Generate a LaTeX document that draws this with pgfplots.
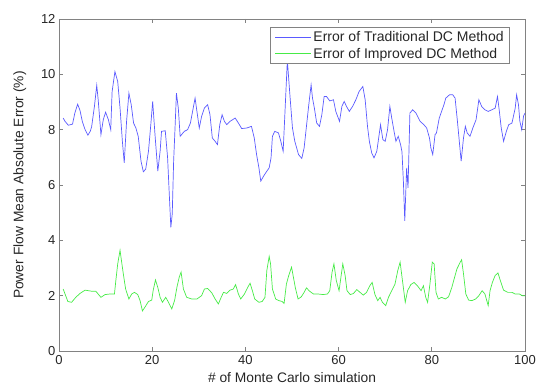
\documentclass[border=0pt]{standalone}
\usepackage{pgfplots}
\pgfplotsset{compat=1.18}
\usepackage{fontspec}
\setmainfont{Liberation Sans}
\definecolor{tradblue}{RGB}{90,90,255}
\definecolor{impgreen}{RGB}{70,235,70}
\definecolor{axgray}{RGB}{130,130,130}
\begin{document}
\begin{tikzpicture}
\useasboundingbox (-59pt,-35pt) rectangle (478pt,351pt);
\begin{axis}[
  at={(0,0)}, anchor=south west,
  width=466pt, height=332pt, scale only axis,
  xmin=0, xmax=100, ymin=0, ymax=12,
  xtick={0,20,...,100}, ytick={0,2,...,12},
  tick align=inside,
  major tick length=4pt,
  axis line style={axgray, line width=0.9pt},
  every tick/.style={axgray, line width=0.8pt},
  /pgf/number format/assume math mode=true,
  tick label style={font=\fontsize{13}{14}\selectfont, text=black!85},
  xticklabel style={yshift=-1pt},
  xlabel={\# of Monte Carlo simulation},
  ylabel={Power Flow Mean Absolute Error (\%)},
  label style={font=\fontsize{13.8}{15}\selectfont, text=black!85},
  xlabel style={yshift=-1pt},
  ylabel style={yshift=8pt},
  legend style={at={(1,1)}, anchor=north east, xshift=-15pt, yshift=-8pt,
    draw=axgray, line width=0.8pt, font=\fontsize{14}{15}\selectfont, text=black!85,
    inner xsep=4pt, inner ysep=2pt, row sep=1pt},
  legend cell align=left,
  legend image code/.code={\draw[#1, line width=0.9pt] (0pt,0pt) -- (36pt,0pt);},
]
\addplot[tradblue, line width=0.7pt] coordinates {
(0.9,8.42)(1.3,8.3)(2.0,8.16)(2.9,8.2)(3.4,8.6)(4.0,8.92)(4.5,8.7)(5.0,8.3)(5.6,8.0)(6.2,7.8)(6.7,7.94)(7.0,8.1)(7.6,8.84)(8.1,9.6)(8.4,9.1)(9.0,7.82)(9.5,8.36)(10.0,8.63)(10.6,8.36)(11.1,8.0)(11.4,9.38)(12.0,10.1)(12.6,9.74)(13.1,8.78)(13.6,7.58)(14.0,6.8)(14.5,8.3)(15.0,9.32)(15.5,8.9)(16.0,8.24)(16.5,8.06)(17.0,7.76)(17.6,6.86)(18.1,6.48)(18.6,6.57)(19.2,7.22)(19.7,8.18)(20.1,9.02)(20.6,7.82)(21.2,6.5)(21.7,7.22)(22.0,7.94)(22.8,7.96)(23.3,7.0)(23.6,5.9)(24.0,4.47)(24.3,4.95)(24.6,6.86)(24.9,8.06)(25.2,9.32)(25.6,8.78)(26.0,7.76)(26.3,7.82)(26.9,7.94)(27.6,8.0)(28.2,8.24)(28.6,8.6)(29.2,9.14)(29.6,8.66)(30.1,8.06)(30.6,8.48)(31.2,8.78)(31.9,8.9)(32.4,8.54)(32.9,7.7)(33.5,7.58)(34.0,7.46)(34.5,8.18)(35.0,8.54)(35.5,8.3)(36.0,8.18)(36.7,8.3)(37.8,8.42)(38.5,8.24)(39.2,8.04)(40.3,8.06)(41.3,8.12)(41.9,7.7)(42.4,7.1)(42.9,6.62)(43.3,6.14)(43.9,6.32)(44.6,6.5)(45.1,6.62)(45.5,6.98)(45.8,7.76)(46.3,7.94)(47.1,7.88)(47.6,7.58)(48.1,7.22)(48.4,8.3)(49.0,10.5)(49.6,9.14)(50.1,8.06)(50.6,7.58)(51.4,7.1)(52.1,6.96)(52.6,7.34)(53.1,8.12)(53.6,8.9)(54.1,9.62)(54.4,9.14)(54.8,8.78)(55.3,8.24)(55.9,8.12)(56.4,8.54)(56.9,9.2)(57.4,9.2)(58.1,9.04)(58.9,9.08)(59.4,8.66)(60.2,8.3)(60.7,8.84)(61.2,9.02)(61.7,8.84)(62.3,8.66)(63.0,8.84)(63.7,9.08)(64.4,9.38)(65.2,9.56)(65.7,9.08)(66.2,8.12)(66.6,7.58)(67.1,7.16)(67.6,6.98)(68.2,7.22)(68.7,7.82)(69.0,8.18)(69.5,7.64)(70.0,7.58)(70.5,8.0)(71.0,8.84)(71.4,8.42)(71.9,7.94)(72.3,7.58)(72.8,7.76)(73.3,7.46)(73.6,7.2)(73.9,6.14)(74.2,4.7)(74.6,6.62)(74.9,5.9)(75.3,8.6)(75.9,8.72)(76.6,8.6)(77.5,8.3)(78.3,8.18)(78.9,8.06)(79.5,7.7)(79.8,7.34)(80.2,7.1)(80.7,7.82)(81.0,7.88)(81.6,8.42)(82.1,8.66)(82.6,8.9)(83.0,9.14)(83.8,9.26)(84.5,9.26)(85.0,9.14)(85.5,8.3)(85.9,7.58)(86.3,6.86)(86.8,7.7)(87.2,8.12)(87.6,7.88)(88.2,7.76)(88.8,8.06)(89.5,8.36)(90.1,9.08)(90.7,8.84)(91.4,8.72)(92.1,8.66)(92.9,8.72)(93.6,8.78)(94.1,9.2)(94.5,8.66)(94.9,8.06)(95.4,7.58)(96.0,7.94)(96.5,8.18)(97.2,8.24)(97.9,8.78)(98.2,9.26)(98.6,8.9)(98.9,8.3)(99.3,8.0)(99.7,8.5)(100,8.6)
};
\addlegendentry{Error of Traditional DC Method}
\addplot[impgreen, line width=0.7pt] coordinates {
(0.9,2.24)(1.3,2.06)(1.9,1.79)(2.7,1.76)(3.6,1.94)(4.5,2.08)(5.6,2.2)(6.3,2.18)(7.0,2.16)(7.9,2.16)(8.4,2.06)(9.0,1.94)(9.9,2.04)(10.9,2.06)(11.9,2.06)(12.2,2.55)(12.6,3.15)(13.1,3.64)(13.4,3.27)(13.8,2.79)(14.3,2.24)(15.0,1.88)(15.6,2.06)(16.2,2.12)(16.9,2.04)(17.4,1.82)(17.9,1.45)(18.5,1.6)(19.2,1.79)(19.9,1.84)(20.2,2.18)(20.7,2.57)(21.2,2.3)(21.7,1.94)(22.2,1.76)(22.9,1.94)(23.5,1.76)(24.2,1.52)(24.8,1.82)(25.3,2.3)(25.8,2.67)(26.2,2.85)(26.7,2.24)(27.4,1.94)(28.5,1.88)(29.6,1.88)(30.6,2.0)(31.2,2.24)(31.9,2.26)(32.8,2.1)(33.5,1.88)(34.2,1.7)(34.8,1.94)(35.3,2.12)(36.0,2.08)(36.7,2.2)(37.4,2.24)(37.9,2.4)(38.5,2.06)(39.0,1.88)(39.8,2.06)(40.5,2.3)(41.0,2.45)(41.5,2.18)(42.0,1.88)(42.9,1.76)(43.6,1.79)(44.2,1.94)(44.6,2.91)(45.1,3.42)(45.4,3.15)(45.8,2.24)(46.5,1.88)(47.2,1.82)(47.9,1.79)(48.3,1.72)(48.8,2.42)(49.3,2.73)(49.9,3.03)(50.3,2.67)(50.7,2.3)(51.3,1.88)(52.0,1.96)(52.6,2.12)(53.1,2.28)(53.8,2.16)(54.6,2.06)(55.6,2.06)(56.7,2.04)(57.6,2.06)(58.1,2.18)(58.6,2.85)(59.0,3.15)(59.5,2.55)(60.1,2.18)(60.6,2.79)(60.9,3.15)(61.4,2.73)(61.8,2.18)(62.5,2.04)(63.2,2.08)(63.9,2.22)(64.6,2.12)(65.3,2.02)(66.0,2.12)(66.7,2.36)(67.2,2.48)(67.8,2.04)(68.4,1.82)(68.9,1.94)(69.4,1.76)(70.1,1.64)(70.7,1.94)(71.4,2.18)(72.1,2.42)(72.7,2.91)(73.2,3.21)(73.7,2.55)(74.3,1.76)(74.8,2.18)(75.5,2.4)(76.2,2.48)(76.9,2.36)(77.7,2.18)(78.2,2.36)(78.7,1.94)(79.1,1.76)(79.6,2.42)(80.1,3.21)(80.5,3.15)(80.9,2.12)(81.4,1.88)(82.1,1.94)(82.9,1.88)(83.6,1.96)(84.3,2.3)(84.9,2.67)(85.4,2.97)(86.1,3.21)(86.4,3.3)(86.8,2.79)(87.3,2.06)(87.9,1.84)(88.6,1.82)(89.4,1.88)(90.1,2.0)(90.8,2.18)(91.4,2.06)(91.8,1.82)(92.1,1.64)(92.5,2.18)(93.0,2.48)(93.6,2.73)(94.2,2.82)(94.7,2.55)(95.4,2.2)(96.3,2.12)(97.2,2.12)(97.9,2.06)(98.8,2.06)(99.4,2.0)(100,2.0)
};
\addlegendentry{Error of Improved DC Method}
\end{axis}
\end{tikzpicture}
\end{document}
